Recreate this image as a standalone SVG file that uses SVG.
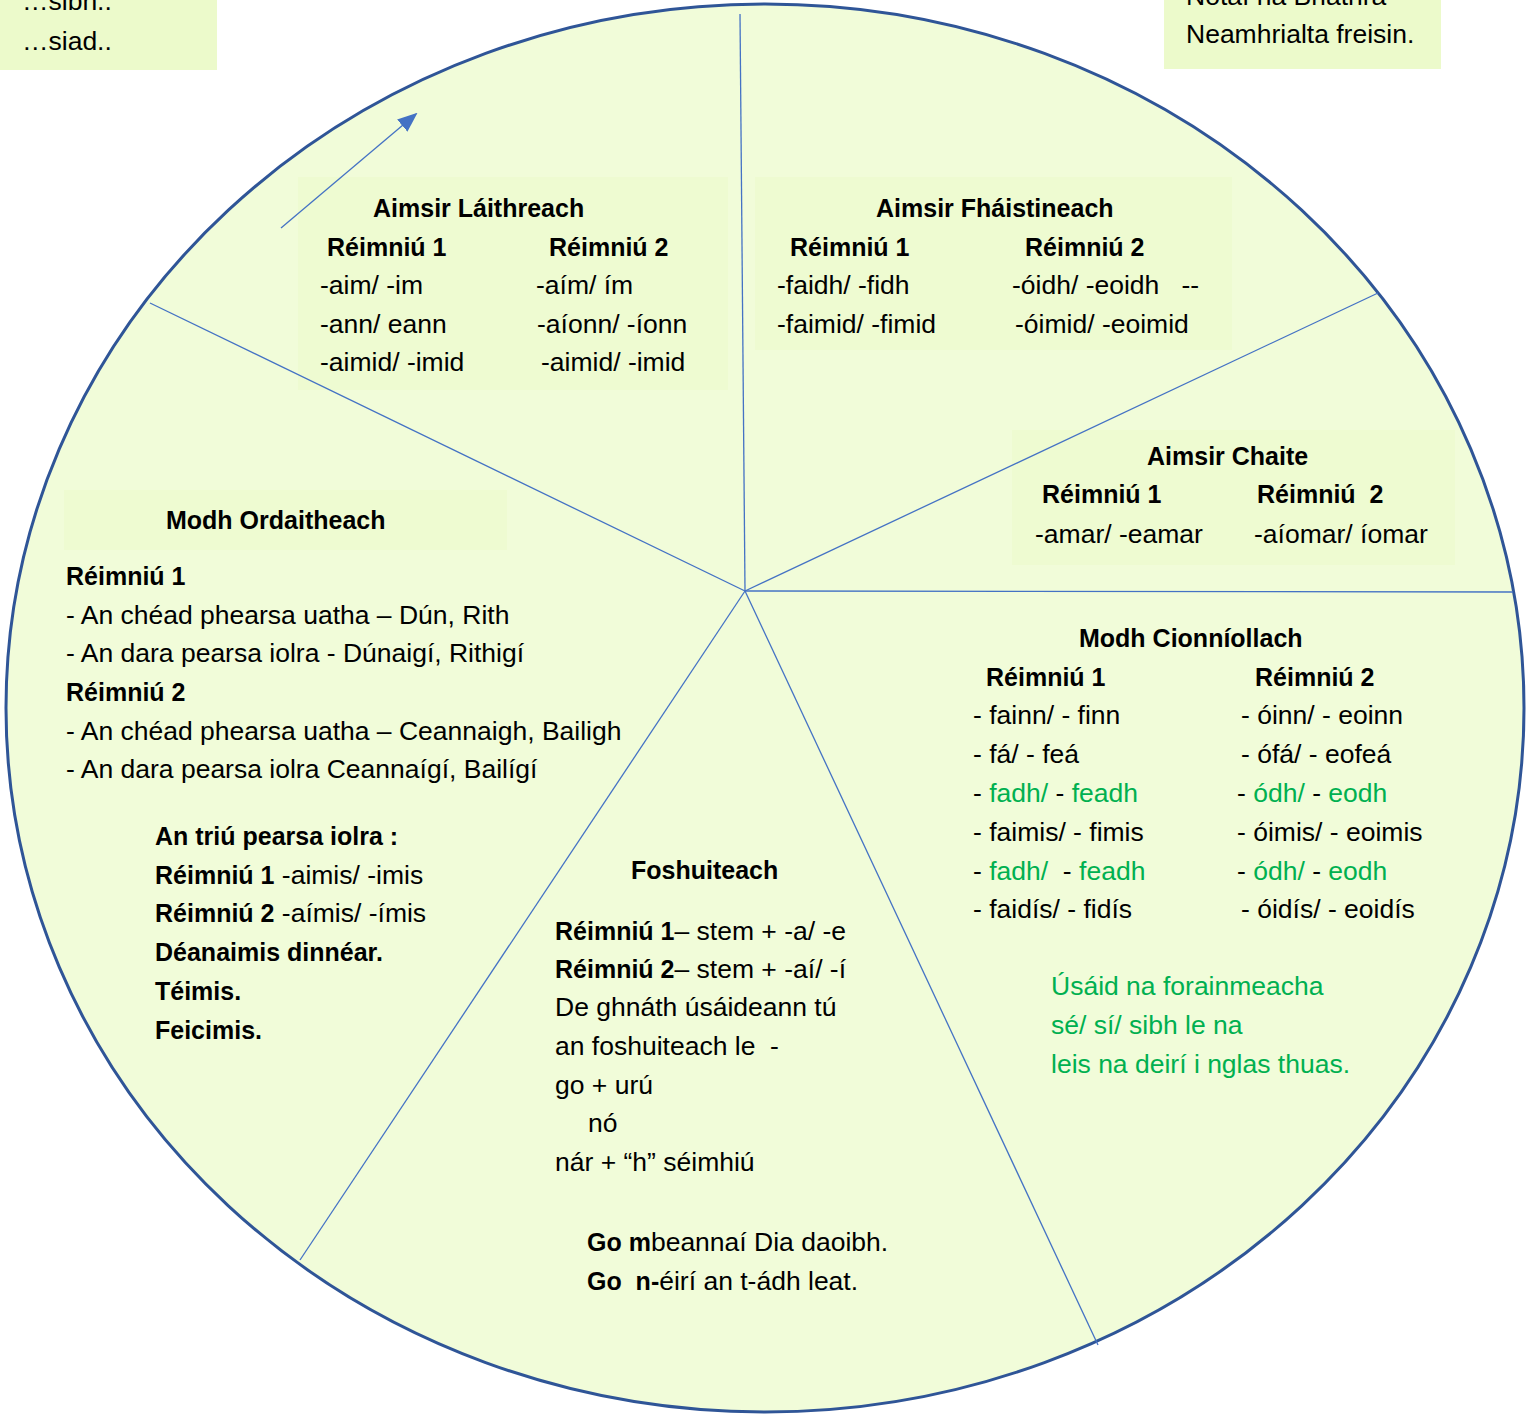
<svg xmlns="http://www.w3.org/2000/svg" width="1527" height="1417" viewBox="0 0 1527 1417">
<style>
text{font-family:"Liberation Sans",Arial,sans-serif;font-size:26.5px;fill:#000}
.b{font-weight:bold;font-size:25px}
.g{fill:#00B050}
.box{fill:#ECFACB}
.spoke{stroke:#4472C4;stroke-width:1.3;fill:none}
</style>
<defs>
<marker id="ah" markerWidth="20" markerHeight="16" refX="18" refY="8" orient="auto" markerUnits="userSpaceOnUse" viewBox="0 0 20 16">
<path d="M0,0 L20,8 L0,16 z" fill="#4472C4"/>
</marker>
</defs>
<rect width="1527" height="1417" fill="#fff"/>
<g id="note-left">
<rect class="box" x="0" y="0" width="217" height="70"/>
<text x="22" y="10">…sibh..</text>
<text x="22" y="50">…siad..</text>
</g>
<g id="note-right">
<rect class="box" x="1164" y="0" width="277" height="69"/>
<text x="1186" y="5">Nótaí na Briathra</text>
<text x="1186" y="43">Neamhrialta freisin.</text>
</g>
<g id="wheel">
<ellipse cx="765" cy="708" rx="759" ry="704" fill="#F1FCD9" stroke="#2F5597" stroke-width="3"/>
</g>
<g id="boxes">
<rect class="box" x="298" y="177" width="430" height="213" opacity="0.6"/>
<rect class="box" x="755" y="177" width="477" height="173" opacity="0.6"/>
<rect class="box" x="1012" y="430" width="443" height="135" opacity="0.6"/>
<rect class="box" x="64" y="490" width="443" height="60" opacity="0.6"/>
</g>
<g id="connectors">
<line class="spoke" x1="745" y1="591" x2="740" y2="14"/>
<line class="spoke" x1="745" y1="591" x2="1378" y2="293"/>
<line class="spoke" x1="745" y1="591" x2="1513" y2="592"/>
<line class="spoke" x1="745" y1="591" x2="1098" y2="1345"/>
<line class="spoke" x1="745" y1="591" x2="300" y2="1260"/>
<line class="spoke" x1="745" y1="591" x2="150" y2="303"/>
<line class="spoke" x1="281" y1="228" x2="416" y2="114" marker-end="url(#ah)"/>
</g>
<g id="aimsir-laithreach">
<text class="b" x="373" y="217">Aimsir Láithreach</text>
<text class="b" x="327" y="256">Réimniú 1</text>
<text class="b" x="549" y="256">Réimniú 2</text>
<text x="320" y="294">-aim/ -im</text>
<text x="536" y="294">-aím/ ím</text>
<text x="320" y="333">-ann/ eann</text>
<text x="537" y="333">-aíonn/ -íonn</text>
<text x="320" y="371">-aimid/ -imid</text>
<text x="541" y="371">-aimid/ -imid</text>
</g>
<g id="aimsir-fhaistineach">
<text class="b" x="876" y="217">Aimsir Fháistineach</text>
<text class="b" x="790" y="256">Réimniú 1</text>
<text class="b" x="1025" y="256">Réimniú 2</text>
<text x="777" y="294">-faidh/ -fidh</text>
<text x="1012" y="294" xml:space="preserve">-óidh/ -eoidh   --</text>
<text x="777" y="333">-faimid/ -fimid</text>
<text x="1015" y="333">-óimid/ -eoimid</text>
</g>
<g id="aimsir-chaite">
<text class="b" x="1147" y="465">Aimsir Chaite</text>
<text class="b" x="1042" y="503">Réimniú 1</text>
<text class="b" x="1257" y="503" xml:space="preserve">Réimniú  2</text>
<text x="1035" y="543">-amar/ -eamar</text>
<text x="1254" y="543">-aíomar/ íomar</text>
</g>
<g id="modh-ordaitheach">
<text class="b" x="166" y="529">Modh Ordaitheach</text>
<text class="b" x="66" y="585">Réimniú 1</text>
<text x="66" y="624">- An chéad phearsa uatha – Dún, Rith</text>
<text x="66" y="662">- An dara pearsa iolra - Dúnaigí, Rithigí</text>
<text class="b" x="66" y="701">Réimniú 2</text>
<text x="66" y="740">- An chéad phearsa uatha – Ceannaigh, Bailigh</text>
<text x="66" y="778">- An dara pearsa iolra Ceannaígí, Bailígí</text>
<text class="b" x="155" y="845">An triú pearsa iolra :</text>
<text x="155" y="884"><tspan class="b">Réimniú 1</tspan> -aimis/ -imis</text>
<text x="155" y="922"><tspan class="b">Réimniú 2</tspan> -aímis/ -ímis</text>
<text class="b" x="155" y="961">Déanaimis dinnéar.</text>
<text class="b" x="155" y="1000">Téimis.</text>
<text class="b" x="155" y="1039">Feicimis.</text>
</g>
<g id="foshuiteach">
<text class="b" x="631" y="879">Foshuiteach</text>
<text x="555" y="940"><tspan class="b">Réimniú 1</tspan>– stem + -a/ -e</text>
<text x="555" y="978"><tspan class="b">Réimniú 2</tspan>– stem + -aí/ -í</text>
<text x="555" y="1016">De ghnáth úsáideann tú</text>
<text x="555" y="1055" xml:space="preserve">an foshuiteach le  -</text>
<text x="555" y="1094">go + urú</text>
<text x="588" y="1132">nó</text>
<text x="555" y="1171">nár + “h” séimhiú</text>
<text x="587" y="1251"><tspan class="b">Go m</tspan>beannaí Dia daoibh.</text>
<text x="587" y="1290" xml:space="preserve"><tspan class="b">Go  n-</tspan>éirí an t-ádh leat.</text>
</g>
<g id="modh-coinniollach">
<text class="b" x="1079" y="647">Modh Cionníollach</text>
<text class="b" x="986" y="686">Réimniú 1</text>
<text class="b" x="1255" y="686">Réimniú 2</text>
<text x="973" y="724">- fainn/ - finn</text>
<text x="1241" y="724">- óinn/ - eoinn</text>
<text x="973" y="763">- fá/ - feá</text>
<text x="1241" y="763">- ófá/ - eofeá</text>
<text x="973" y="802">- <tspan class="g">fadh/</tspan> - <tspan class="g">feadh</tspan></text>
<text x="1237" y="802">- <tspan class="g">ódh/</tspan> - <tspan class="g">eodh</tspan></text>
<text x="973" y="841">- faimis/ - fimis</text>
<text x="1237" y="841">- óimis/ - eoimis</text>
<text x="973" y="880" xml:space="preserve">- <tspan class="g">fadh/</tspan>  - <tspan class="g">feadh</tspan></text>
<text x="1237" y="880">- <tspan class="g">ódh/</tspan> - <tspan class="g">eodh</tspan></text>
<text x="973" y="918">- faidís/ - fidís</text>
<text x="1241" y="918">- óidís/ - eoidís</text>
<text class="g" x="1051" y="995">Úsáid na forainmeacha</text>
<text class="g" x="1051" y="1034">sé/ sí/ sibh le na</text>
<text class="g" x="1051" y="1073">leis na deirí i nglas thuas.</text>
</g>
</svg>
